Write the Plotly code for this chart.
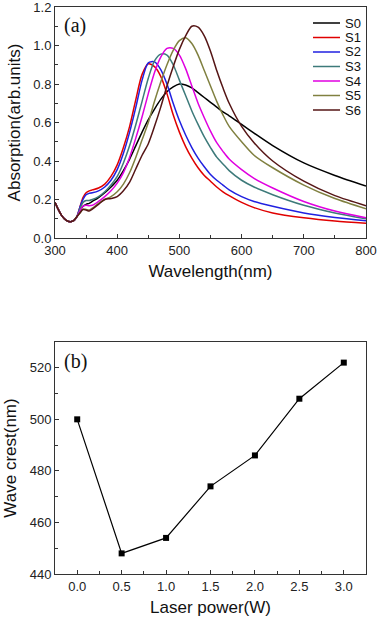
import plotly.graph_objects as go

wavelength = [300, 305, 310, 315, 320, 325, 330, 335, 340, 345, 350, 355, 360, 370, 380, 390,
              400, 410, 420, 430, 440, 450, 460, 470, 480, 490, 500, 510, 520, 530, 540, 550,
              560, 570, 580, 600, 620, 650, 700, 750, 800]

common = [0.185, 0.15, 0.12, 0.10, 0.088, 0.085, 0.09, 0.11]

s0 = common + [0.14, 0.165, 0.175, 0.18, 0.19, 0.21, 0.235, 0.265, 0.30, 0.35, 0.41, 0.48, 0.55,
               0.615, 0.67, 0.72, 0.76, 0.785, 0.80, 0.795, 0.78, 0.755, 0.73, 0.705, 0.68, 0.655,
               0.635, 0.59, 0.545, 0.48, 0.39, 0.325, 0.27]
s1 = common + [0.16, 0.21, 0.235, 0.245, 0.25, 0.26, 0.28, 0.32, 0.38, 0.47, 0.58, 0.72, 0.85,
               0.905, 0.89, 0.84, 0.75, 0.64, 0.55, 0.475, 0.415, 0.365, 0.325, 0.295, 0.265, 0.24,
               0.22, 0.185, 0.158, 0.13, 0.105, 0.088, 0.077]
s2 = common + [0.16, 0.20, 0.225, 0.232, 0.235, 0.245, 0.265, 0.30, 0.355, 0.44, 0.55, 0.68, 0.82,
               0.91, 0.915, 0.875, 0.80, 0.70, 0.61, 0.535, 0.47, 0.415, 0.37, 0.33, 0.30, 0.275,
               0.25, 0.215, 0.19, 0.165, 0.13, 0.107, 0.09]
s3 = common + [0.15, 0.185, 0.195, 0.195, 0.20, 0.215, 0.24, 0.275, 0.32, 0.39, 0.48, 0.59, 0.71,
               0.83, 0.92, 0.955, 0.95, 0.90, 0.82, 0.74, 0.66, 0.59, 0.525, 0.47, 0.42, 0.385,
               0.35, 0.30, 0.265, 0.225, 0.17, 0.13, 0.10]
s4 = common + [0.14, 0.165, 0.17, 0.168, 0.17, 0.19, 0.215, 0.245, 0.285, 0.34, 0.42, 0.52, 0.63,
               0.75, 0.86, 0.94, 0.985, 0.985, 0.95, 0.88, 0.79, 0.70, 0.625, 0.555, 0.495, 0.45,
               0.41, 0.355, 0.31, 0.26, 0.19, 0.14, 0.105]
s5 = common + [0.13, 0.15, 0.148, 0.145, 0.155, 0.18, 0.20, 0.215, 0.24, 0.28, 0.34, 0.42, 0.51,
               0.60, 0.71, 0.81, 0.90, 0.975, 1.025, 1.04, 1.01, 0.95, 0.87, 0.79, 0.71, 0.64,
               0.58, 0.50, 0.43, 0.365, 0.275, 0.205, 0.152]
s6 = common + [0.13, 0.148, 0.145, 0.14, 0.15, 0.175, 0.20, 0.205, 0.215, 0.245, 0.29, 0.36, 0.43,
               0.49, 0.58, 0.68, 0.79, 0.89, 0.98, 1.05, 1.10, 1.095, 1.05, 0.97, 0.87, 0.78,
               0.70, 0.58, 0.495, 0.40, 0.295, 0.22, 0.168]

series_names = ["S0", "S1", "S2", "S3", "S4", "S5", "S6"]
series_values = [s0, s1, s2, s3, s4, s5, s6]
series_colors = ["#000000", "#e00000", "#2020e0", "#3d7a7a", "#e000e0", "#808040", "#551515"]

laser_power = [0.0, 0.5, 1.0, 1.5, 2.0, 2.5, 3.0]
wave_crest = [500, 448, 454, 474, 486, 508, 522]

W, H = 378, 619
FONT = "Liberation Sans, Arial"

fig = go.Figure()
for name, vals, col in zip(series_names, series_values, series_colors):
    fig.add_trace(go.Scatter(x=wavelength, y=vals, name=name, mode="lines",
                             line=dict(color=col, width=1.5, shape="spline", smoothing=0.8),
                             xaxis="x", yaxis="y", showlegend=False))

fig.add_trace(go.Scatter(x=laser_power, y=wave_crest, mode="lines+markers", showlegend=False,
                         line=dict(color="black", width=1.2),
                         marker=dict(symbol="square", size=6, color="black"),
                         xaxis="x2", yaxis="y2"))

# manual legend (compact spacing as in the reference)
shapes = []
annotations = []
leg_x0, leg_x1, leg_txt = 313, 340, 343
leg_y0, leg_dy = 23, 14.5
for i, (name, col) in enumerate(zip(series_names, series_colors)):
    yy = 1 - (leg_y0 + i * leg_dy) / H
    shapes.append(dict(type="line", xref="paper", yref="paper", x0=leg_x0 / W, x1=leg_x1 / W,
                       y0=yy, y1=yy, line=dict(color=col, width=1.5)))
    annotations.append(dict(text=name, xref="paper", yref="paper", x=leg_txt / W, y=yy,
                            xanchor="left", yanchor="middle", showarrow=False,
                            font=dict(family=FONT, size=13, color="#111")))

annotations += [
    dict(text="(a)", xref="paper", yref="paper", x=62 / W, y=1 - 25 / H, xanchor="left",
         yanchor="middle", showarrow=False,
         font=dict(family="Liberation Serif, Times New Roman", size=20, color="#111")),
    dict(text="(b)", xref="paper", yref="paper", x=62 / W, y=1 - 361.5 / H, xanchor="left",
         yanchor="middle", showarrow=False,
         font=dict(family="Liberation Serif, Times New Roman", size=20, color="#111")),
]

axis_common = dict(showgrid=False, zeroline=False, showline=True, linecolor="#333", linewidth=1,
                   mirror=True, ticks="inside", ticklen=4, tickcolor="#333", automargin=False,
                   ticklabeloverflow="allow",
                   tickfont=dict(family=FONT, size=13, color="#222"))

fig.update_layout(
    width=W, height=H,
    margin=dict(l=0, r=0, t=0, b=0),
    paper_bgcolor="white", plot_bgcolor="white",
    showlegend=False,
    shapes=shapes,
    annotations=annotations,
    xaxis=dict(domain=[55 / W, 366 / W], range=[300, 800], dtick=100, anchor="y",
               minor=dict(dtick=50, ticks="inside", ticklen=3, tickcolor="#333"),
               title=dict(text="Wavelength(nm)", standoff=8,
                          font=dict(family=FONT, size=17, color="#111")),
               **axis_common),
    yaxis=dict(domain=[1 - 238 / H, 1 - 7 / H], range=[0, 1.20001], dtick=0.2, tickformat=".1f",
               anchor="x",
               minor=dict(dtick=0.1, ticks="inside", ticklen=3, tickcolor="#333"),
               title=dict(text="Absorption(arb.units)", standoff=8,
                          font=dict(family=FONT, size=17, color="#111")),
               **axis_common),
    xaxis2=dict(domain=[55 / W, 366 / W], range=[-0.25, 3.25], dtick=0.5, tickformat=".1f",
                anchor="y2",
                minor=dict(dtick=0.25, ticks="inside", ticklen=3, tickcolor="#333"),
                title=dict(text="Laser power(W)", standoff=8,
                           font=dict(family=FONT, size=17, color="#111")),
                **axis_common),
    yaxis2=dict(domain=[1 - 574 / H, 1 - 342 / H], range=[440, 530], dtick=20, anchor="x2",
                minor=dict(dtick=10, ticks="inside", ticklen=3, tickcolor="#333"),
                title=dict(text="Wave crest(nm)", standoff=8,
                           font=dict(family=FONT, size=17, color="#111")),
                **axis_common),
)

fig.write_html("out.html", config={"displayModeBar": False},
               post_script="document.body.style.margin='0';document.body.style.overflow='hidden';")
